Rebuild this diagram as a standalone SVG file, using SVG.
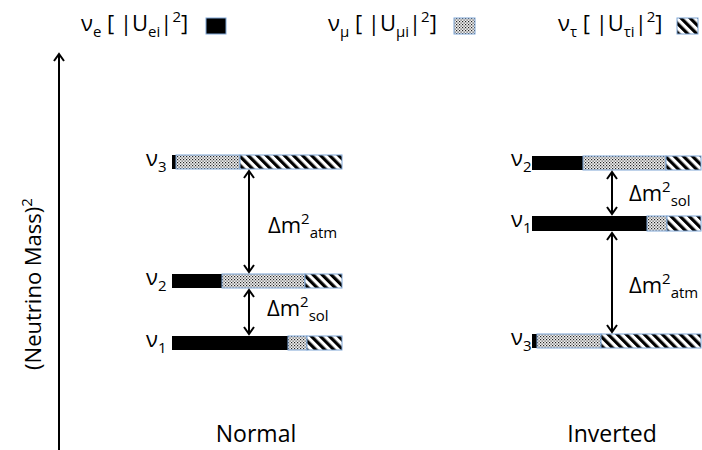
<svg xmlns="http://www.w3.org/2000/svg" width="702" height="450" viewBox="0 0 702 450">
<defs>
<style>
text{font-family:"Open Sans","Liberation Sans",sans-serif;fill:#000;}
.t{font-size:22px;}
.b{font-size:23px;}
.s{font-size:15px;}
.bar{stroke:#7fa6d6;stroke-width:1;}
.blk{fill:#000;}
.dot{fill:url(#dots);}
.hat{fill:url(#hatch);}
.ln{stroke:#000;stroke-width:2;fill:none;}
</style>
<pattern id="dots" width="3" height="3" patternUnits="userSpaceOnUse">
<rect width="3" height="3" fill="#f2f2f2"/>
<rect x="0" y="0" width="1.2" height="1.2" fill="#222"/>
<rect x="1.5" y="1.5" width="1.2" height="1.2" fill="#444"/>
</pattern>
<pattern id="hatch" width="6.4" height="10" patternUnits="userSpaceOnUse" patternTransform="rotate(-45)">
<rect width="6.4" height="10" fill="#fff"/>
<rect width="3.2" height="10" fill="#000"/>
</pattern>
<marker id="ah" markerWidth="12" markerHeight="12" refX="10" refY="6" orient="auto-start-reverse" markerUnits="userSpaceOnUse">
<path d="M3,1 L10,6 L3,11" fill="none" stroke="#000" stroke-width="2"/>
</marker>
</defs>

<g id="legend">
<text class="t" x="81" y="31">ν<tspan class="s" dy="6">e</tspan><tspan dy="-6"> [ |U</tspan><tspan class="s" dy="6">ei</tspan><tspan dy="-6">|</tspan><tspan class="s" dy="-9">2</tspan><tspan dy="9">]</tspan></text>
<rect x="206" y="18" width="20" height="16" fill="#000" stroke="#7fa6d6"/>
<text class="t" x="328" y="31">ν<tspan class="s" dy="6">μ</tspan><tspan dy="-6"> [ |U</tspan><tspan class="s" dy="6">μi</tspan><tspan dy="-6">|</tspan><tspan class="s" dy="-9">2</tspan><tspan dy="9">]</tspan></text>
<rect x="454" y="18" width="21" height="16" fill="url(#dots)" stroke="#7fa6d6"/>
<text class="t" x="558" y="31">ν<tspan class="s" dy="6">τ</tspan><tspan dy="-6"> [ |U</tspan><tspan class="s" dy="6">τi</tspan><tspan dy="-6">|</tspan><tspan class="s" dy="-9">2</tspan><tspan dy="9">]</tspan></text>
<rect x="677" y="18" width="21" height="16" fill="url(#hatch)" stroke="#7fa6d6"/>
</g>

<g id="axis">
<line class="ln" x1="59" y1="450" x2="59" y2="54" marker-end="url(#ah)"/>
<text class="t" transform="translate(41,284) rotate(-90)" text-anchor="middle">(Neutrino Mass)<tspan class="s" dy="-9">2</tspan></text>
</g>

<g id="normal-nu3">
<text class="t" x="146" y="166">ν<tspan class="s" dy="6">3</tspan></text>
<rect class="blk" x="172" y="155" width="4" height="14"/>
<rect class="dot bar" x="176" y="155" width="64" height="14"/>
<rect class="hat bar" x="240" y="155" width="102" height="14"/>
</g>
<g id="normal-nu2">
<text class="t" x="146" y="285">ν<tspan class="s" dy="6">2</tspan></text>
<rect class="blk" x="172" y="274" width="50" height="14"/>
<rect class="dot bar" x="222" y="274" width="83" height="14"/>
<rect class="hat bar" x="305" y="274" width="37" height="14"/>
</g>
<g id="normal-nu1">
<text class="t" x="146" y="347">ν<tspan class="s" dy="6">1</tspan></text>
<rect class="blk" x="172" y="336" width="116" height="14"/>
<rect class="dot bar" x="288" y="336" width="19" height="14"/>
<rect class="hat bar" x="307" y="336" width="35" height="14"/>
</g>

<g id="inverted-nu2">
<text class="t" x="511" y="166">ν<tspan class="s" dy="6">2</tspan></text>
<rect class="blk" x="532" y="156" width="51" height="14"/>
<rect class="dot bar" x="583" y="156" width="83" height="14"/>
<rect class="hat bar" x="666" y="156" width="35" height="14"/>
</g>
<g id="inverted-nu1">
<text class="t" x="511" y="227">ν<tspan class="s" dy="6">1</tspan></text>
<rect class="blk" x="532" y="216" width="115" height="15"/>
<rect class="dot bar" x="647" y="216" width="20" height="15"/>
<rect class="hat bar" x="667" y="216" width="34" height="15"/>
</g>
<g id="inverted-nu3">
<text class="t" x="511" y="345">ν<tspan class="s" dy="6">3</tspan></text>
<rect class="blk" x="532" y="334" width="5" height="14"/>
<rect class="dot bar" x="537" y="334" width="64" height="14"/>
<rect class="hat bar" x="601" y="334" width="100" height="14"/>
</g>

<g id="connectors">
<line class="ln" x1="249" y1="171" x2="249" y2="272" marker-start="url(#ah)" marker-end="url(#ah)"/>
<line class="ln" x1="249" y1="290" x2="249" y2="334" marker-start="url(#ah)" marker-end="url(#ah)"/>
<line class="ln" x1="612" y1="172" x2="612" y2="214" marker-start="url(#ah)" marker-end="url(#ah)"/>
<line class="ln" x1="612" y1="233" x2="612" y2="332" marker-start="url(#ah)" marker-end="url(#ah)"/>
</g>

<g id="labels">
<text class="t" x="268" y="233">Δm<tspan class="s" dy="-9">2</tspan><tspan class="s" dy="14">atm</tspan></text>
<text class="t" x="267" y="316">Δm<tspan class="s" dy="-9">2</tspan><tspan class="s" dy="14">sol</tspan></text>
<text class="t" x="629" y="201">Δm<tspan class="s" dy="-9">2</tspan><tspan class="s" dy="14">sol</tspan></text>
<text class="t" x="629" y="293">Δm<tspan class="s" dy="-9">2</tspan><tspan class="s" dy="14">atm</tspan></text>
<text class="b" x="256" y="442" text-anchor="middle">Normal</text>
<text class="b" x="612" y="442" text-anchor="middle">Inverted</text>
</g>
</svg>
